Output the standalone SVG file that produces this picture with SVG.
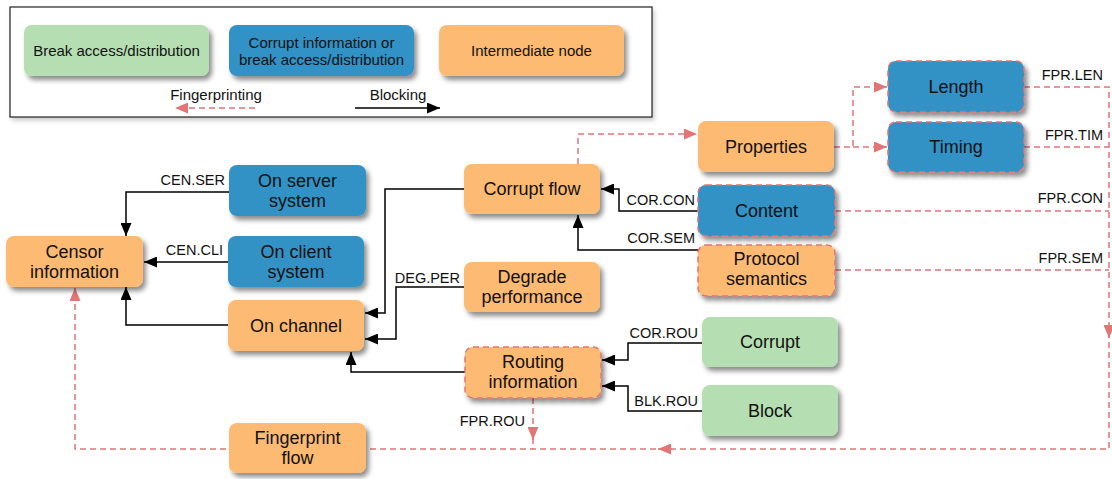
<svg xmlns="http://www.w3.org/2000/svg" width="1112" height="479" viewBox="0 0 1112 479">
<style>
text{font-family:"Liberation Sans",Arial,Helvetica,sans-serif;fill:#111}
.n{font-size:18px;text-anchor:middle}
.lg{font-size:15px;text-anchor:middle}
.el{font-size:14.5px;text-anchor:end}
.or{fill:#FDBA72}
.bl{fill:#3392C6}
.gr{fill:#B5DFB2}
.box{filter:url(#sh)}
.db{stroke:#E07676;stroke-width:1.5;stroke-dasharray:6 4}
.k{fill:none;stroke:#000;stroke-width:1.5}
.r{fill:none;stroke:#E07676;stroke-width:1.5;stroke-dasharray:6 4}
.rs{fill:none;stroke:#E07676;stroke-width:1.5}
</style>
<defs>
<filter id="sh" x="-20%" y="-20%" width="150%" height="160%">
<feDropShadow dx="3" dy="4" stdDeviation="2.5" flood-color="#000" flood-opacity="0.45"/>
</filter>
<filter id="sh2" x="-5%" y="-10%" width="110%" height="130%">
<feDropShadow dx="2" dy="3" stdDeviation="2" flood-color="#000" flood-opacity="0.2"/>
</filter>
<marker id="ak" viewBox="0 0 13 11" refX="13" refY="5.5" markerWidth="13" markerHeight="11" orient="auto" markerUnits="userSpaceOnUse">
<path d="M0,0 L13,5.5 L0,11 z" fill="#000"/>
</marker>
<marker id="ar" viewBox="0 0 13 11" refX="13" refY="5.5" markerWidth="13" markerHeight="11" orient="auto" markerUnits="userSpaceOnUse">
<path d="M0,0 L13,5.5 L0,11 z" fill="#E07676"/>
</marker>
</defs>
<rect width="1112" height="479" fill="#fff"/>

<g id="legend">
<rect x="10" y="7" width="642" height="110" fill="#fff" stroke="#222" stroke-width="1.2" filter="url(#sh2)"/>
<g id="legend-green"><rect class="gr box" x="24" y="25" width="185" height="51" rx="8"/><text class="lg" x="116.5" y="56">Break access/distribution</text></g>
<g id="legend-blue"><rect class="bl box" x="229" y="25" width="185" height="51" rx="8"/><text class="lg" x="321.5" y="48">Corrupt information or</text><text class="lg" x="321.5" y="65">break access/distribution</text></g>
<g id="legend-orange"><rect class="or box" x="439" y="25" width="185" height="51" rx="8"/><text class="lg" x="531.5" y="56">Intermediate node</text></g>
<text class="lg" x="216" y="100">Fingerprinting</text>
<path class="r" d="M255,108 H175" marker-end="url(#ar)"/>
<text class="lg" x="398" y="100">Blocking</text>
<path class="k" d="M355,108 H440" marker-end="url(#ak)"/>
</g>

<g id="connectors">
<path class="k" d="M229,192 H126 V236" marker-end="url(#ak)"/>
<path class="k" d="M228,262 H144" marker-end="url(#ak)"/>
<path class="k" d="M228,325 H126 V287" marker-end="url(#ak)"/>
<path class="k" d="M464,189 H385 V313 H365" marker-end="url(#ak)"/>
<path class="k" d="M464,287 H396 V339 H365" marker-end="url(#ak)"/>
<path class="k" d="M465,372 H351 V352" marker-end="url(#ak)"/>
<path class="k" d="M698,211 H619 V189 H601" marker-end="url(#ak)"/>
<path class="k" d="M698,250 H578 V215" marker-end="url(#ak)"/>
<path class="k" d="M702,343 H628 V360 H602" marker-end="url(#ak)"/>
<path class="k" d="M702,411 H628 V386 H602" marker-end="url(#ak)"/>

<path class="r" d="M578,164 V134 H697" marker-end="url(#ar)"/>
<path class="r" d="M834,147 H853 V87 H887" marker-end="url(#ar)"/>
<path class="r" d="M853,147 H887" marker-end="url(#ar)"/>
<path class="r" d="M1024,87 H1109 V449 H75 V288" marker-end="url(#ar)"/>
<path class="r" d="M1024,147 H1109"/>
<path class="r" d="M835,211 H1109"/>
<path class="r" d="M835,270 H1109"/>
<path class="r" d="M533,398 V449"/>
<path class="rs" d="M533,428 V440" marker-end="url(#ar)"/>
<path class="rs" d="M1109,325 V338" marker-end="url(#ar)"/>
<path class="rs" d="M672,449 H658" marker-end="url(#ar)"/>

<text class="el" x="225" y="185">CEN.SER</text>
<text class="el" x="223" y="255">CEN.CLI</text>
<text class="el" x="460" y="283">DEG.PER</text>
<text class="el" x="695" y="205">COR.CON</text>
<text class="el" x="695" y="243">COR.SEM</text>
<text class="el" x="698" y="338">COR.ROU</text>
<text class="el" x="698" y="406">BLK.ROU</text>
<text class="el" x="525" y="426">FPR.ROU</text>
<text class="el" x="1103" y="80">FPR.LEN</text>
<text class="el" x="1103" y="140">FPR.TIM</text>
<text class="el" x="1103" y="203">FPR.CON</text>
<text class="el" x="1103" y="263">FPR.SEM</text>
</g>

<g id="censor-information"><rect class="or box" x="6" y="236" width="137" height="51" rx="8"/><text class="n" x="74.5" y="258">Censor</text><text class="n" x="74.5" y="278">information</text></g>
<g id="on-server-system"><rect class="bl box" x="229" y="165" width="137" height="51" rx="8"/><text class="n" x="297.5" y="187">On server</text><text class="n" x="297.5" y="207">system</text></g>
<g id="on-client-system"><rect class="bl box" x="228" y="236" width="136" height="51" rx="8"/><text class="n" x="296" y="258">On client</text><text class="n" x="296" y="278">system</text></g>
<g id="on-channel"><rect class="or box" x="228" y="300" width="136" height="51" rx="8"/><text class="n" x="296" y="331.5">On channel</text></g>
<g id="corrupt-flow"><rect class="or box" x="464" y="164" width="136" height="50" rx="8"/><text class="n" x="532" y="195">Corrupt flow</text></g>
<g id="degrade-performance"><rect class="or box" x="464" y="262" width="136" height="50" rx="8"/><text class="n" x="532" y="283">Degrade</text><text class="n" x="532" y="303">performance</text></g>
<g id="routing-information"><rect class="or box db" x="465" y="347" width="136" height="51" rx="8"/><text class="n" x="533" y="368">Routing</text><text class="n" x="533" y="388">information</text></g>
<g id="fingerprint-flow"><rect class="or box" x="229" y="423" width="137" height="50" rx="8"/><text class="n" x="297.5" y="444">Fingerprint</text><text class="n" x="297.5" y="464">flow</text></g>
<g id="properties"><rect class="or box" x="698" y="121" width="136" height="51" rx="8"/><text class="n" x="766" y="152.5">Properties</text></g>
<g id="length"><rect class="bl box db" x="888" y="61" width="136" height="51" rx="8"/><text class="n" x="956" y="92.5">Length</text></g>
<g id="timing"><rect class="bl box db" x="888" y="122" width="136" height="50" rx="8"/><text class="n" x="956" y="153">Timing</text></g>
<g id="content"><rect class="bl box db" x="698" y="185" width="137" height="51" rx="8"/><text class="n" x="766.5" y="216.5">Content</text></g>
<g id="protocol-semantics"><rect class="or box db" x="698" y="245" width="137" height="51" rx="8"/><text class="n" x="766.5" y="265">Protocol</text><text class="n" x="766.5" y="285">semantics</text></g>
<g id="corrupt"><rect class="gr box" x="702" y="317" width="136" height="50" rx="8"/><text class="n" x="770" y="348">Corrupt</text></g>
<g id="block"><rect class="gr box" x="702" y="385" width="136" height="51" rx="8"/><text class="n" x="770" y="416.5">Block</text></g>
</svg>
